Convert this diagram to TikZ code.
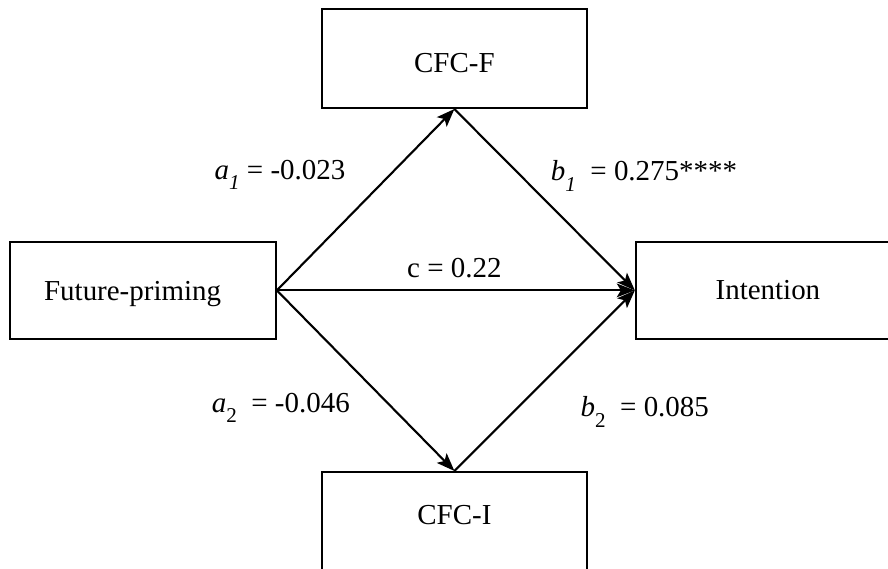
\documentclass[tikz,border=0pt]{standalone}
\usepackage{fontspec}
\setmainfont{Liberation Serif}
\usetikzlibrary{positioning, arrows.meta}
\newcommand{\lowsub}[1]{\raisebox{-0.36em}{\fontsize{15}{18}\selectfont #1}}

\begin{document}
\begin{tikzpicture}[
  box/.style={rectangle, draw=black, line width=1.5pt, fill=white, text=black,
              minimum height=2.43cm, minimum width=6.64cm, text depth=0cm,
              font=\fontsize{20.6}{24}\selectfont},
  coef/.style={text=black, font=\fontsize{20.6}{24}\selectfont, inner sep=0pt},
  arrow/.style={-{Stealth[length=0.45cm, width=0.34cm, inset=0.1cm]}, line width=1.5pt, black},
  node distance=8.95cm
]
  \useasboundingbox (0,0) rectangle (22.2,14.2);
  \node[box, text height=0.5cm] (future) at (3.575,6.94) {Future-priming\hspace*{0.52cm}};
  \node[box, text height=0.48cm, minimum width=6.32cm, right=of future] (intention) {\hspace*{0.28cm}Intention};
  \node[box, text height=0.7cm, minimum height=2.48cm] (cfcf) at (11.36,12.74) {CFC-F};
  \node[box, text height=0.14cm, minimum height=2.48cm] (cfci) at (11.36,1.16) {CFC-I};
  \draw[arrow] (future.east) -- (cfcf.south);
  \draw[arrow] (cfcf.south) -- (intention.west);
  \draw[arrow] (future.east) -- (intention.west);
  \draw[arrow] (future.east) -- (cfci.north);
  \draw[arrow] (cfci.north) -- (intention.west);
  \node[coef] (a1) at (7.0,9.83) {\textit{a}\lowsub{\textit{1}} = -0.023};
  \node[coef] (b1) at (16.1,9.8) {\textit{b}\lowsub{\textit{1}}\ \ = 0.275****};
  \node[coef] (c) at (11.36,7.5) {c = 0.22};
  \node[coef] (a2) at (7.02,4.0) {\textit{a}\lowsub{2}\ \ = -0.046};
  \node[coef] (b2) at (16.12,3.9) {\textit{b}\lowsub{2}\ \ = 0.085};
\end{tikzpicture}
\end{document}
